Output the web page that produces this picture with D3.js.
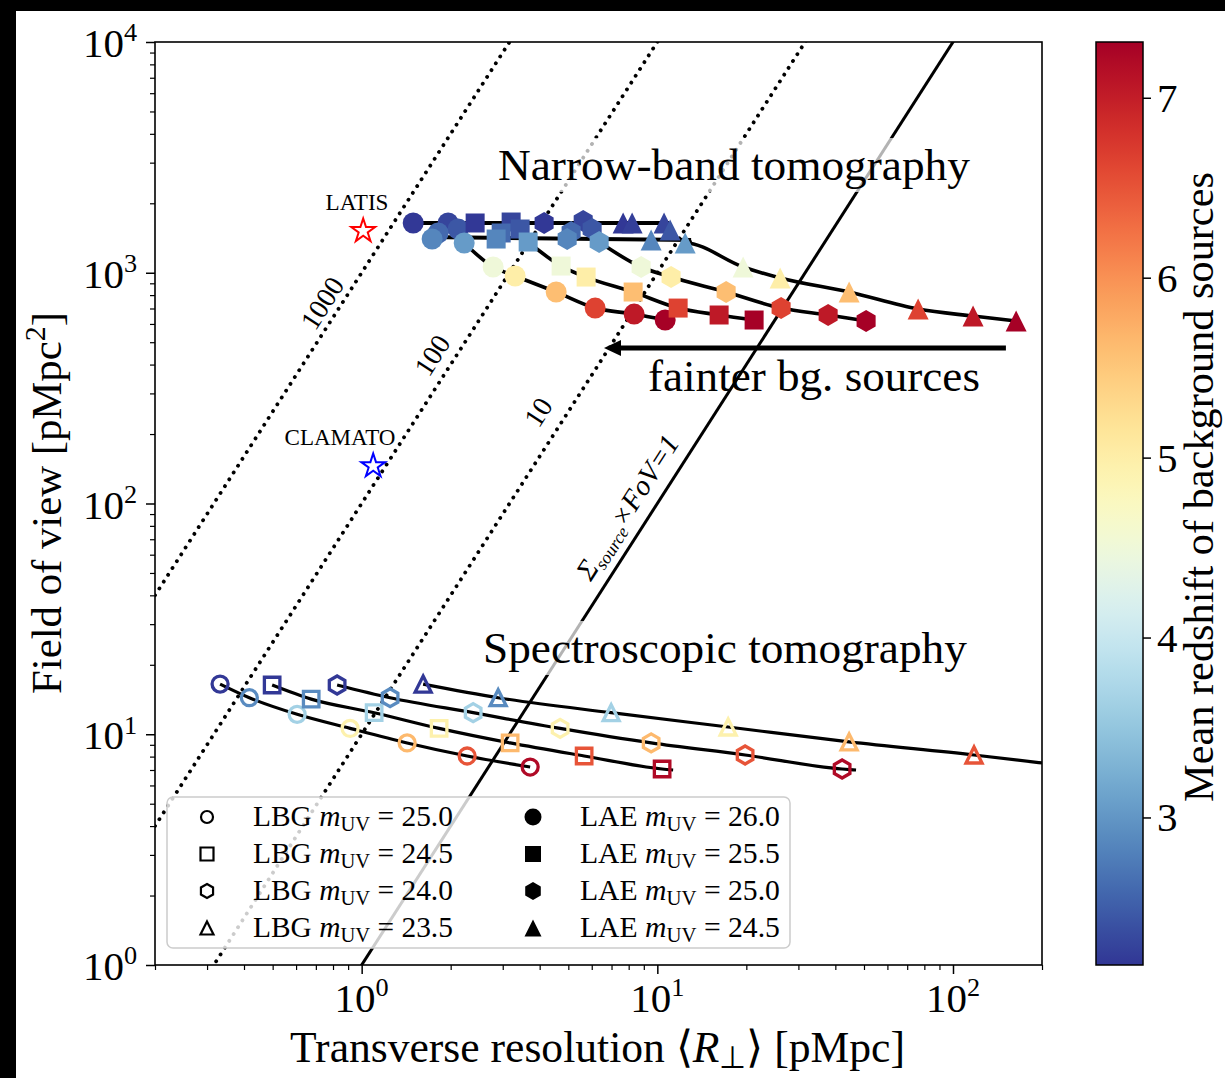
<!DOCTYPE html>
<html><head><meta charset="utf-8">
<script src="https://cdn.jsdelivr.net/npm/d3@7"></script>
<style>body{margin:0;background:#fff}svg{display:block}</style>
</head><body><svg id="c" width="1225" height="1078"></svg>
<script>
// ================= DATA =================
const shapes = ["circle","square","hexagon","triangle"];
const lbgMags = ["25.0","24.5","24.0","23.5"];
const laeMags = ["26.0","25.5","25.0","24.5"];

// Spectroscopic tomography (LBG, open markers): R_perp [pMpc], FoV [pMpc^2], mean z
const lbgR = [
  [0.332,0.417,0.605,0.914,1.425,2.274,3.714],
  [0.498,0.675,1.102,1.828,3.178,5.655,10.38],
  [0.826,1.248,2.383,4.691,9.53,19.81,42.17],
  [1.614,2.895,6.98,17.36,44.53,117.8]
];
const lbgFoV = [
  [16.5,14.4,12.2,10.6,9.17,8.05,7.21],
  [16.35,14.2,12.4,10.6,9.17,8.05,7.07],
  [16.35,14.4,12.4,10.6,9.17,8.13,7.07],
  [16.5,14.4,12.4,10.75,9.26,8.13]
];
const lbgZ = [
  [2.2,2.9,3.65,4.95,5.65,6.5,7.2],
  [2.2,2.9,3.65,4.95,5.65,6.5,7.2],
  [2.2,2.9,3.65,4.95,5.65,6.5,7.2],
  [2.2,2.9,3.65,4.95,5.65,6.5]
];
// model curves continue past the last marker
const lbgTailR   = [null, 11.31, 47.0, 200];
const lbgTailFoV = [null, 7.0, 7.0, 7.51];

// Narrow-band tomography (LAE, filled markers)
const laeR = [
  [1.494,1.961,2.120,1.814,1.731,2.222,2.784,3.304,4.548,6.162,8.348,10.63],
  [2.420,3.203,3.436,2.964,2.850,3.657,4.727,5.743,8.283,11.76,16.18,21.25],
  [4.141,5.614,6.019,5.110,4.955,6.357,8.814,11.13,17.09,26.22,37.82,50.83],
  [7.661,8.219,10.54,11.05,9.53,12.42,19.51,26.02,44.53,76.21,116.9,163.5]
];
const laeFoV = [
  [1643,1643,1547,1487,1400,1345,1059,968,825,703,662,624],
  [1643,1659,1547,1487,1400,1359,1069,958,825,703,656,624],
  [1643,1676,1547,1502,1400,1359,1059,958,825,703,656,618],
  [1643,1643,1643,1532,1387,1345,1059,949,825,696,649,618]
];
const laeZ = [
  [2.2,2.3,2.45,2.6,2.85,3.05,4.5,5.0,5.6,6.65,7.05,7.3],
  [2.2,2.3,2.45,2.6,2.85,3.05,4.5,5.0,5.6,6.65,7.05,7.3],
  [2.2,2.3,2.45,2.6,2.85,3.05,4.5,5.0,5.6,6.65,7.05,7.3],
  [2.2,2.25,2.3,2.45,2.85,3.05,4.5,5.0,5.6,6.65,7.05,7.3]
];
// plateau curves of the narrow-band models
const nbTopR = [1.494, 10.96],  nbTopFoV = [1643, 1643];
const nbMidR = [1.652, 13.01],  nbMidFoV = [1428, 1387];

// lines of constant number of sources N = FoV / R^2
const nLines = [1000, 100, 10, 1];
const nLabels = ["1000", "100", "10"];

// existing surveys
const surveys = ["LATIS", "CLAMATO"];
const surveyR = [1.012, 1.094];
const surveyFoV = [1517, 145.4];
const surveyColor = ["#ff0000", "#0000ff"];

// axes
const xMajor = [1, 10, 100], xMajorExp = ["0","1","2"];
const yMajor = [1, 10, 100, 1000, 10000], yMajorExp = ["0","1","2","3","4"];
const cbTicks = [3,4,5,6,7];
const zDomain = [2.18, 7.31];

// ================= CHART =================
const W = 1225, H = 1078;
const FONT = "'Liberation Serif','Times New Roman',serif";
const svg = d3.select("#c").attr("font-family", FONT);
const x = d3.scaleLog().domain([0.2, 200]).range([155, 1042]);
const y = d3.scaleLog().domain([1, 1e4]).range([965, 42]);
const color = d3.scaleSequential(t => d3.interpolateRdYlBu(1 - t)).domain(zDomain);
const [X0, X1] = x.range(), [Y0, Y1] = y.range();

svg.append("rect").attr("width", W).attr("height", H).attr("fill", "#fff");
svg.append("rect").attr("width", W).attr("height", 11).attr("fill", "#000");
svg.append("rect").attr("width", 16).attr("height", H).attr("fill", "#000");

const defs = svg.append("defs");
defs.append("clipPath").attr("id", "pc").append("rect")
  .attr("x", X0).attr("y", Y1).attr("width", X1 - X0).attr("height", Y0 - Y1);

function fit(sel, target) {
  const w = sel.node().getComputedTextLength();
  sel.attr("font-size", (+sel.attr("font-size")) * target / w);
  return sel;
}

function markerPath(shape, s) {
  if (shape === "circle") {
    const r = s / 2;
    return `M${r},0A${r},${r},0,1,1,${-r},0A${r},${r},0,1,1,${r},0Z`;
  }
  if (shape === "square") {
    const h = s / 2;
    return `M${-h},${-h}H${h}V${h}H${-h}Z`;
  }
  if (shape === "triangle") {
    const h = s / 2;
    return `M0,${-h}L${h},${h}L${-h},${h}Z`;
  }
  if (shape === "hexagon") {
    const R = s / 2;
    const pts = d3.range(6).map(k => {
      const a = -Math.PI / 2 + k * Math.PI / 3;
      return [R * Math.cos(a), R * Math.sin(a)];
    });
    return "M" + pts.map(p => p.join(",")).join("L") + "Z";
  }
  if (shape === "star") {
    const R = s / 2, r = R * 0.381966;
    const pts = d3.range(10).map(k => {
      const a = -Math.PI / 2 + k * Math.PI / 5;
      const rr = k % 2 ? r : R;
      return [rr * Math.cos(a), rr * Math.sin(a)];
    });
    return "M" + pts.map(p => p.join(",")).join("L") + "Z";
  }
}
const filledSize = {circle: 21, square: 19, hexagon: 22, triangle: 21};
const openSize = {circle: 16, square: 15.5, hexagon: 18, triangle: 16};

const plot = svg.append("g").attr("clip-path", "url(#pc)");

// constant-N lines
nLines.forEach(N => {
  const pts = [[0.2, N * 0.04], [200, N * 40000]];
  plot.append("path")
    .attr("d", d3.line().x(d => x(d[0])).y(d => y(d[1]))(pts))
    .attr("fill", "none").attr("stroke", "#000")
    .attr("stroke-width", N === 1 ? 3 : 3.8)
    .attr("stroke-dasharray", N === 1 ? null : "0.1 8")
    .attr("stroke-linecap", N === 1 ? "butt" : "round");
});

const line = d3.line().x(d => x(d[0])).y(d => y(d[1])).curve(d3.curveMonotoneX);

// narrow-band curves
plot.append("path").attr("d", line(d3.zip(nbTopR, nbTopFoV)))
  .attr("fill", "none").attr("stroke", "#000").attr("stroke-width", 4);
plot.append("path").attr("d", line(d3.zip(nbMidR, nbMidFoV)))
  .attr("fill", "none").attr("stroke", "#000").attr("stroke-width", 4);
laeR.forEach((rs, i) => {
  const pts = d3.zip(rs, laeFoV[i]).slice(5);
  if (i === 3) pts.unshift([nbMidR[1], nbMidFoV[1]]);
  plot.append("path").attr("d", line(pts))
    .attr("fill", "none").attr("stroke", "#000").attr("stroke-width", 3.6);
});

// spectroscopic curves
lbgR.forEach((rs, i) => {
  const pts = d3.zip(rs, lbgFoV[i]);
  if (lbgTailR[i] !== null) pts.push([lbgTailR[i], lbgTailFoV[i]]);
  plot.append("path").attr("d", line(pts))
    .attr("fill", "none").attr("stroke", "#000").attr("stroke-width", 3.2);
});

// text annotations with translucent boxes
function boxedText(tx, ty, str, target) {
  const g = svg.append("g");
  const rect = g.append("rect");
  const t = g.append("text").attr("x", tx).attr("y", ty).attr("font-size", 40)
    .attr("fill", "#000").text(str);
  fit(t, target);
  const b = t.node().getBBox();
  rect.attr("x", b.x - 4).attr("y", b.y - 2).attr("width", b.width + 8).attr("height", b.height + 4)
    .attr("fill", "#fff").attr("fill-opacity", 0.7);
  return t;
}
boxedText(498, 180, "Narrow-band tomography", 472);
boxedText(483, 663, "Spectroscopic tomography", 484);
fit(svg.append("text").attr("x", 648).attr("y", 391).attr("font-size", 40).text("fainter bg. sources"), 332);

// arrow
const arrowFrom = [151, 472], arrowTo = [6.6, 472];
{
  const ax0 = x(arrowFrom[0]), ax1 = x(arrowTo[0]), ay = y(arrowFrom[1]);
  svg.append("line").attr("x1", ax0).attr("y1", ay).attr("x2", ax1 + 12).attr("y2", ay)
    .attr("stroke", "#000").attr("stroke-width", 5);
  svg.append("path").attr("d", `M${ax1},${ay}L${ax1 + 17},${ay - 8}L${ax1 + 17},${ay + 8}Z`).attr("fill", "#000");
}

// line labels
const ang = -Math.atan(2 * (Y0 - Y1) / 4 / ((X1 - X0) / 3)) * 180 / Math.PI;
const nLabelPos = [[322, 303], [432, 355], [538, 412]];
nLabels.forEach((s, i) => {
  const [px, py] = nLabelPos[i];
  svg.append("text").attr("transform", `translate(${px},${py}) rotate(${ang})`)
    .attr("text-anchor", "middle").attr("dy", "0.35em").attr("font-size", 28).text(s);
});
{
  const t = svg.append("text").attr("transform", `translate(627,507) rotate(${ang})`)
    .attr("text-anchor", "middle").attr("dy", "0.35em").attr("font-size", 24).attr("font-style", "italic");
  t.append("tspan").text("Σ");
  t.append("tspan").attr("font-size", "0.62em").attr("dy", "0.3em").text("source");
  t.append("tspan").attr("dy", "-0.18em").text("×FoV=1");
  fit(t, 166);
}

// survey stars + labels
const surveyLabelPos = [[357, 210], [340, 445]];
const surveyLabelW = [63, 111];
surveys.forEach((s, i) => {
  svg.append("path").attr("d", markerPath("star", 25))
    .attr("transform", `translate(${x(surveyR[i])},${y(surveyFoV[i])})`)
    .attr("fill", "none").attr("stroke", surveyColor[i]).attr("stroke-width", 2);
  fit(svg.append("text").attr("x", surveyLabelPos[i][0]).attr("y", surveyLabelPos[i][1])
    .attr("text-anchor", "middle").attr("font-size", 19).text(s), surveyLabelW[i]);
});

// markers: narrow-band (filled)
laeR.forEach((rs, i) => {
  rs.forEach((r, j) => {
    svg.append("path").attr("d", markerPath(shapes[i], filledSize[shapes[i]]))
      .attr("transform", `translate(${x(r)},${y(laeFoV[i][j])})`)
      .attr("fill", color(laeZ[i][j]));
  });
});
// markers: spectroscopic (open)
lbgR.forEach((rs, i) => {
  rs.forEach((r, j) => {
    svg.append("path").attr("d", markerPath(shapes[i], openSize[shapes[i]]))
      .attr("transform", `translate(${x(r)},${y(lbgFoV[i][j])})`)
      .attr("fill", "none").attr("stroke", color(lbgZ[i][j])).attr("stroke-width", 3.3);
  });
});

// legend
{
  const lg = svg.append("g");
  lg.append("rect").attr("x", 167).attr("y", 797).attr("width", 623).attr("height", 151).attr("rx", 6)
    .attr("fill", "#fff").attr("fill-opacity", 0.8).attr("stroke", "#cccccc").attr("stroke-width", 1.5);
  const rowY = [817, 854, 891, 928];
  const cols = [
    {label: "LBG", mags: lbgMags, mx: 207, tx: 253, open: true},
    {label: "LAE", mags: laeMags, mx: 533, tx: 580, open: false}
  ];
  cols.forEach(c => {
    c.mags.forEach((m, k) => {
      const p = lg.append("path").attr("transform", `translate(${c.mx},${rowY[k]})`);
      if (c.open) p.attr("d", markerPath(shapes[k], {circle: 12, square: 13, hexagon: 14, triangle: 13}[shapes[k]]))
        .attr("fill", "none").attr("stroke", "#000").attr("stroke-width", 2.2);
      else p.attr("d", markerPath(shapes[k], {circle: 17, square: 16, hexagon: 18, triangle: 17}[shapes[k]])).attr("fill", "#000");
      const t = lg.append("text").attr("x", c.tx).attr("y", rowY[k] + 9).attr("font-size", 26);
      t.append("tspan").text(c.label + " ");
      t.append("tspan").attr("font-style", "italic").text("m");
      t.append("tspan").attr("font-size", "0.7em").attr("dy", "0.25em").text("UV");
      t.append("tspan").attr("dy", "-0.18em").text(" = " + m);
      fit(t, 200);
    });
  });
}

// axes ticks
function minors(lo, hi) {
  const out = [];
  for (let e = -1; e <= 3; e++) for (let m = 2; m <= 9; m++) {
    const v = m * Math.pow(10, e);
    if (v >= lo - 1e-9 && v <= hi + 1e-9) out.push(v);
  }
  return out;
}
function styleAxis(g, w) { g.select(".domain").remove(); g.selectAll("line").attr("stroke", "#000").attr("stroke-width", w); }
svg.append("g").attr("transform", `translate(0,${Y0})`)
  .call(d3.axisBottom(x).tickValues(xMajor).tickSize(9).tickFormat("")).call(g => styleAxis(g, 1.5));
svg.append("g").attr("transform", `translate(0,${Y0})`)
  .call(d3.axisBottom(x).tickValues(minors(0.2, 200)).tickSize(5).tickFormat("")).call(g => styleAxis(g, 1.2));
svg.append("g").attr("transform", `translate(${X0},0)`)
  .call(d3.axisLeft(y).tickValues(yMajor).tickSize(9).tickFormat("")).call(g => styleAxis(g, 1.5));
svg.append("g").attr("transform", `translate(${X0},0)`)
  .call(d3.axisLeft(y).tickValues(minors(1, 1e4)).tickSize(5).tickFormat("")).call(g => styleAxis(g, 1.2));

function powText(g, px, py, exp, anchor) {
  const t = g.append("text").attr("x", px).attr("y", py).attr("text-anchor", anchor).attr("font-size", 41);
  t.append("tspan").text("10");
  t.append("tspan").attr("font-size", "0.64em").attr("dy", "-0.6em").text(exp);
  return t;
}
xMajor.forEach((v, i) => powText(svg, x(v), 1012, xMajorExp[i], "middle"));
yMajor.forEach((v, i) => powText(svg, 137, y(v) + 15, yMajorExp[i], "end"));

// frame
svg.append("rect").attr("x", X0).attr("y", Y1).attr("width", X1 - X0).attr("height", Y0 - Y1)
  .attr("fill", "none").attr("stroke", "#000").attr("stroke-width", 1.6);

// axis labels
{
  const t = svg.append("text").attr("transform", `translate(${(290 + 905) / 2},1062)`)
    .attr("text-anchor", "middle").attr("font-size", 40);
  t.append("tspan").text("Transverse resolution ⟨");
  t.append("tspan").attr("font-style", "italic").text("R");
  t.append("tspan").attr("font-size", "0.7em").attr("dy", "0.2em").text("⊥");
  t.append("tspan").attr("dy", "-0.14em").text("⟩ [pMpc]");
  fit(t, 615);
}
{
  const t = svg.append("text").attr("transform", `translate(61,503) rotate(-90)`)
    .attr("text-anchor", "middle").attr("font-size", 40);
  t.append("tspan").text("Field of view [pMpc");
  t.append("tspan").attr("font-size", "0.7em").attr("dy", "-0.55em").text("2");
  t.append("tspan").attr("dy", "0.38em").text("]");
  fit(t, 382);
}

// colorbar
{
  const cbX = 1096, cbW = 47;
  const cy = d3.scaleLinear().domain(zDomain).range([Y0, Y1]);
  const grad = defs.append("linearGradient").attr("id", "cbg").attr("x1", 0).attr("y1", 1).attr("x2", 0).attr("y2", 0);
  d3.range(0, 1.0001, 0.02).forEach(t => {
    grad.append("stop").attr("offset", t).attr("stop-color", color(zDomain[0] + t * (zDomain[1] - zDomain[0])));
  });
  svg.append("rect").attr("x", cbX).attr("y", Y1).attr("width", cbW).attr("height", Y0 - Y1)
    .attr("fill", "url(#cbg)").attr("stroke", "#000").attr("stroke-width", 1.5);
  svg.append("g").attr("transform", `translate(${cbX + cbW},0)`)
    .call(d3.axisRight(cy).tickValues(cbTicks).tickSize(8).tickFormat(""))
    .call(g => styleAxis(g, 1.5));
  cbTicks.forEach(v => svg.append("text").attr("x", 1157).attr("y", cy(v) + 14)
    .attr("font-size", 41).text(v));
  fit(svg.append("text").attr("transform", `translate(1213,487) rotate(-90)`)
    .attr("text-anchor", "middle").attr("font-size", 40).text("Mean redshift of background sources"), 630);
}
</script></body></html>
